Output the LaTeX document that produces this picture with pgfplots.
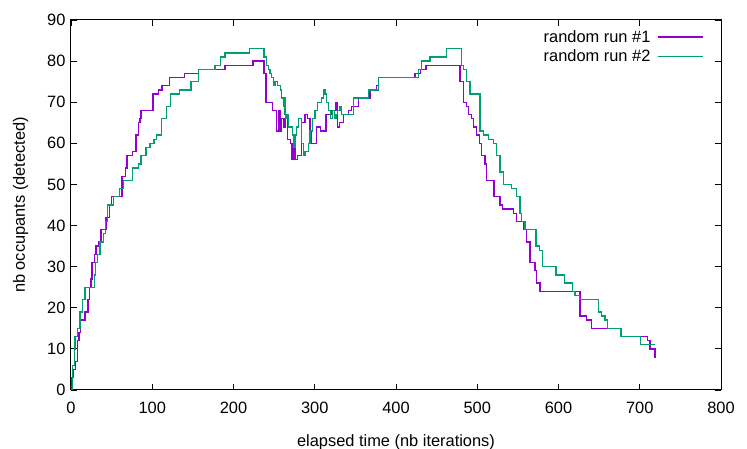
\documentclass[border=0pt]{standalone}
\usepackage{fontspec}
\setmainfont{Liberation Sans}
\usepackage{pgfplots}
\pgfplotsset{compat=1.18}
\definecolor{run1}{HTML}{9400D3}
\definecolor{run2}{HTML}{009E73}
\begin{document}
\begin{tikzpicture}[font=\fontsize{16.4}{19}\selectfont]
\begin{axis}[width=650pt,height=370pt,scale only axis,
  xmin=0,xmax=800,ymin=0,ymax=90,
  xtick={0,100,...,800},ytick={0,10,...,90},
  tick align=inside,major tick length=6pt,
  tick style={black,line width=0.8pt},
  axis line style={black,line width=1pt},
  /pgf/number format/assume math mode=true,
  xticklabel style={yshift=-9pt},
  yticklabel style={xshift=-2pt},
  xlabel={elapsed time (nb iterations)},
  ylabel={nb occupants (detected)},
  xlabel style={yshift=-14pt},
  ylabel style={yshift=12pt},
  legend style={draw=none,fill=none,at={(rel axis cs:1,1)},anchor=north east,
    xshift=-14pt,yshift=-6pt,row sep=2pt},
  legend cell align=right,legend plot pos=right,
  legend image code/.code={\path (0pt,0pt); \draw[#1] (5pt,0pt) -- (50pt,0pt);}]
\addplot[run1,line width=1.4pt,const plot] coordinates {
(0,0) (1,3) (2.8,5) (5.3,7) (8.2,12) (10,14) (12,17) (17,19) (21,22) (23,25)
(24.5,27) (26,31) (29,33) (31,35) (34,36) (37,39) (43,42) (47.5,45) (50,47)
(63,52) (67,54) (69,57) (76,58) (80,62) (83,65) (85,66) (86,68) (101,72)
(108,73) (112,74) (121,76) (139.5,77) (156.7,78) (189.5,79) (224,80)
(237.5,77) (240,70) (248,68) (253,63) (255.2,68) (257.2,63) (259.3,66)
(261.3,64) (263.4,66) (266.3,61) (270.4,60) (272,56) (273.6,59) (275.7,56)
(278.6,57) (281,57) (283.9,65) (288,67) (290.9,66) (294.2,63) (296.2,60)
(300.3,60) (302.4,64) (307.3,63) (313.8,67) (320.8,68) (326.2,70) (327.8,64)
(330.3,65) (335.2,67) (341.3,68) (345.4,69) (353.6,71) (368,73) (376.2,74)
(378.2,76) (423.4,77) (430,78) (437,79) (478.8,75) (482.9,70) (487,69)
(489,67) (493.1,66) (495.2,64) (499.3,62) (502.6,60) (505.4,57) (509.5,55)
(511.6,51) (520.6,47) (528,45) (531.3,44) (544.4,43) (548.5,41) (556.7,39)
(560.9,36) (564.9,31) (571.1,29) (573.1,26) (577.2,24) (626.5,18) (634.7,17)
(640.8,15) (677.7,13) (709.3,12) (712.6,10) (716,10) (718.8,8) (720,8)
};
\addlegendentry{random run \#1}
\addplot[run2,line width=1.4pt,const plot] coordinates {
(0,0) (1.6,6) (4.1,10) (4.9,13) (8.2,15) (11.1,19) (13.9,22) (17.2,25)
(28.7,28) (30.4,31) (32.8,33) (35.7,36) (39.8,38) (42.7,41) (45.1,45)
(52.1,47) (59.5,49) (64.4,51) (75.9,54) (82.9,55) (86.2,57) (92.3,59)
(97.2,60) (102.2,61) (105.4,62) (111.6,66) (117.7,69) (122.7,72) (133.3,73)
(147.7,75) (156.7,78) (177.2,79) (184.2,81) (189.5,82) (219.5,83)
(237.5,81) (240.8,79) (242.9,78) (244.9,77) (247,76) (249,74) (251.1,75)
(254,74) (256.4,74) (258.1,73) (259.3,71) (261.3,69) (262.2,71) (263.4,67)
(264.6,66) (266.3,67) (267.5,64) (270.4,64) (272.9,62) (274.5,59) (276.1,62)
(277.8,64) (279.8,66) (281.8,66) (283.9,60) (285.9,57) (288,58) (290.1,58)
(292.1,60) (294.2,63) (297.4,66) (300.3,68) (303.1,70) (306.5,70) (308.5,71)
(310.5,73) (312.6,72) (314.7,70) (316.7,68) (319.6,66) (322.1,68) (324.1,66)
(326.2,67) (328.2,68) (331.1,69) (333.2,67) (336,67) (347.5,71) (366,73)
(378.2,76) (427.5,78) (431.6,80) (441.8,81) (462.4,83) (480.8,79) (482.9,78)
(487,75) (491.1,72) (503.4,63) (507.4,62) (513.6,61) (519.8,60) (523.9,57)
(528,53) (532.1,50) (542.4,49) (548.5,47) (552.6,43) (554.7,41) (558.8,39)
(572.3,35) (576.4,34) (580.5,30) (596.9,28) (607.2,26) (617.4,24) (620.3,23)
(625.6,22) (649,19) (653.1,18) (657.2,17) (660.1,15) (676.9,13) (701.1,11)
(718.8,11)
};
\addlegendentry{random run \#2}
\coordinate (bl) at (rel axis cs:-0.10923,-0.15946);
\coordinate (tr) at (rel axis cs:1.04,1.05405);
\end{axis}
\pgfresetboundingbox
\path[use as bounding box] (bl) rectangle (tr);
\end{tikzpicture}
\end{document}
